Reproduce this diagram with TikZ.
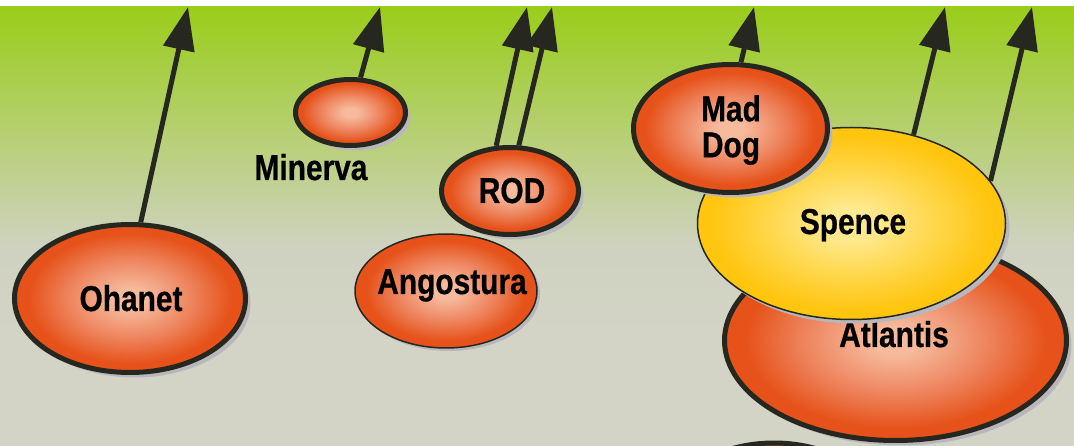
\documentclass[tikz,border=0pt]{standalone}
\usepackage{fontspec}
\newfontfamily\lblfont[FakeStretch=0.83,FakeBold=0.6]{Liberation Sans}
\usetikzlibrary{shapes.geometric,arrows.meta,shadows}
\definecolor{topgreen}{HTML}{9ACD1A}
\definecolor{midgray}{HTML}{CFD2C0}
\definecolor{botgray}{HTML}{D3D3C6}
\definecolor{inkdark}{HTML}{262820}
\definecolor{shadowc}{HTML}{B8B8BC}
\definecolor{ocenter}{HTML}{F6BA9C}
\definecolor{omid}{HTML}{EE8660}
\definecolor{oedge}{HTML}{E6521A}
\definecolor{ycenter}{HTML}{FFE990}
\definecolor{ymid}{HTML}{FFD84E}
\definecolor{yedge}{HTML}{FFC50F}
\pgfdeclareradialshading{orangeball}{\pgfpoint{0bp}{0bp}}{%
  color(0bp)=(ocenter); color(3.5bp)=(ocenter); color(13bp)=(omid); color(22bp)=(oedge); color(50bp)=(oedge)}
\pgfdeclareradialshading{yellowball}{\pgfpoint{0bp}{0bp}}{%
  color(0bp)=(ycenter); color(4bp)=(ycenter); color(13bp)=(ymid); color(23bp)=(yedge); color(50bp)=(yedge)}
\tikzset{
  blob/.style={ellipse, inner sep=0pt, draw=inkdark, line width=5pt, shading=orangeball},
  thinblob/.style={ellipse, inner sep=0pt, draw=inkdark, line width=1.5pt, shading=orangeball},
  yblob/.style={ellipse, inner sep=0pt, draw=inkdark, line width=1.5pt, shading=yellowball},
  shad/.style={drop shadow={fill=shadowc, opacity=1, shadow xshift=#1, shadow yshift=-#1}},
  shad/.default=5pt,
  lbl/.style={font={\lblfont\bfseries\fontsize{36}{36}\selectfont}, text=black, inner sep=0pt, align=center},
  flow/.style={draw=inkdark, line width=5pt, -{Triangle[length=43pt,width=31pt]}, fill=inkdark},
}
\begin{document}
\begin{tikzpicture}[x=1pt,y=-1pt]
\useasboundingbox (0,0) rectangle (1074,446);
\clip (0,0) rectangle (1074,446);
% background
\fill[white] (0,0) rectangle (1074,7);
\shade[top color=topgreen, bottom color=midgray] (0,7) rectangle (1074,245);
\fill[botgray] (0,244) rectangle (1074,446);
\shade[top color=midgray, bottom color=botgray] (0,244) rectangle (1074,330);

% ellipses
\node[blob, shad, minimum width=231pt, minimum height=148pt] (ohanet) at (130,298.5) {};
\node[lbl, anchor=base] (ohanetL) at (131,311) {Ohanet};

\node[blob, shad, minimum width=110pt, minimum height=66pt] (minerva) at (350.5,112.5) {};
\node[lbl, anchor=base] (minervaL) at (311,180) {Minerva};

\node[thinblob, shad=3pt, minimum width=182pt, minimum height=114pt] (ango) at (446,291) {};
\node[lbl, anchor=base] (angoL) at (452,294) {Angostura};

\node[blob, shad, minimum width=137pt, minimum height=87pt] (rod) at (510,191) {};
\node[lbl, anchor=base] (rodL) at (512,203) {ROD};

\node[blob, shad, minimum width=200pt, minimum height=124pt] (bottom) at (774,505) {};

\node[blob, shad, minimum width=342pt, minimum height=200pt] (atlantis) at (895.5,340.5) {};
\node[lbl, anchor=base] (atlantisL) at (894,347) {Atlantis};

\node[yblob, shad=4pt, minimum width=308pt, minimum height=192pt] (spence) at (851.5,223.5) {};
\node[lbl, anchor=base] (spenceL) at (853,234) {Spence};

\node[blob, shad, minimum width=194pt, minimum height=128pt] (maddog) at (730.5,128.5) {};
\node[lbl] (maddogL) at (731,130) {Mad\\Dog};

% arrow tips at the top edge
\coordinate (t1) at (188,7);
\coordinate (t2) at (380,7);
\coordinate (t3) at (527,7);
\coordinate (t4) at (552,7);
\coordinate (t5) at (754,7);
\coordinate (t6) at (945,7);
\coordinate (t7) at (1032,7);

\draw[flow] (ohanet.82.5) -- (t1);
\draw[flow] (minerva.74) -- (t2);
\draw[flow] (rod.107) -- (t3);
\draw[flow] (rod.79) -- (t4);
\draw[flow] (maddog.81) -- (t5);
\draw[flow] (spence.55) -- (t6);
\draw[flow] (spence.17) -- (t7);
\end{tikzpicture}
\end{document}
